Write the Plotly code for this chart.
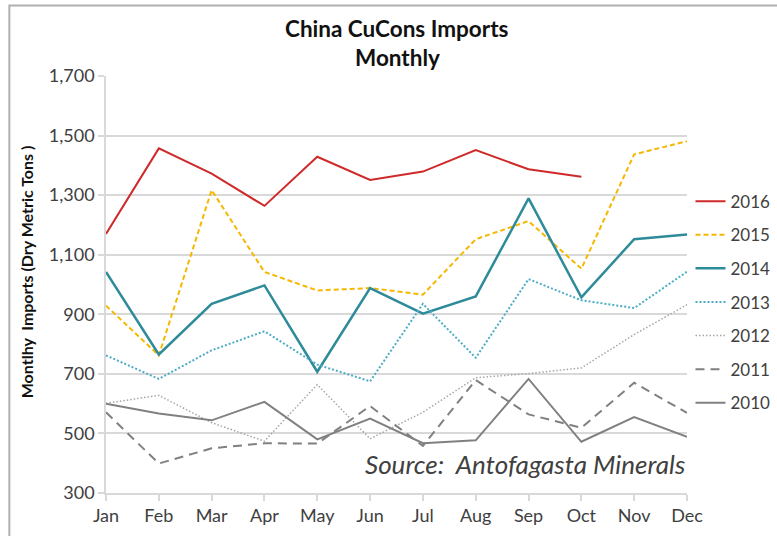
import plotly.graph_objects as go

months = ["Jan", "Feb", "Mar", "Apr", "May", "Jun", "Jul", "Aug", "Sep", "Oct", "Nov", "Dec"]

y2016 = [1170, 1457, 1372, 1264, 1429, 1351, 1379, 1451, 1387, 1362]
y2015 = [929, 762, 1317, 1042, 980, 988, 966, 1152, 1213, 1053, 1437, 1481]
y2014 = [1042, 765, 935, 997, 707, 988, 902, 960, 1289, 957, 1152, 1168]
y2013 = [762, 683, 779, 843, 731, 675, 935, 754, 1018, 947, 921, 1043]
y2012 = [601, 628, 536, 474, 664, 482, 571, 687, 701, 720, 832, 932]
y2011 = [571, 399, 450, 467, 466, 592, 458, 679, 564, 519, 670, 569]
y2010 = [600, 567, 544, 606, 480, 550, 467, 477, 683, 472, 555, 489]

years = ["2016", "2015", "2014", "2013", "2012", "2011", "2010"]
series = [y2016, y2015, y2014, y2013, y2012, y2011, y2010]
colors = ["#cf2a2a", "#f5b800", "#2e8b99", "#4bacc6", "#a6a6a6", "#808080", "#808080"]
dashes = ["solid", "5px,3px", "solid", "2px,2px", "1.5px,2px", "9px,6px", "solid"]
widths = [2, 2, 2.5, 2, 1.5, 2, 2]

y_ticks = [300, 500, 700, 900, 1100, 1300, 1500, 1700]
y_ticktext = ["300", "500", "700", "900", "1,100", "1,300", "1,500", "1,700"]

FONT = "Lato"
TXT = "#404040"

fig = go.Figure()
for name, vals, c, d, w in zip(years, series, colors, dashes, widths):
    fig.add_trace(go.Scatter(
        x=months[:len(vals)], y=vals, name=name, mode="lines",
        line=dict(color=c, dash=d, width=w), legendgroup=name,
    ))

W, H = 777, 536
L, R, T, B = 105.7, 687.0, 75.7, 493.5

fig.update_layout(
    width=W, height=H,
    margin=dict(l=L, r=W - R, t=T, b=H - B, autoexpand=False),
    paper_bgcolor="white", plot_bgcolor="white",
    font=dict(family=FONT, color=TXT, size=16),
    showlegend=True,
    legend=dict(
        x=1.006, xanchor="left", y=0.742, yanchor="top",
        font=dict(size=17, color=TXT, family=FONT),
        itemwidth=30, tracegroupgap=8.5, bgcolor="rgba(0,0,0,0)",
    ),
    xaxis=dict(
        type="category", categoryorder="array", categoryarray=months,
        range=[0, 11], showgrid=False,
        showline=True, linecolor="#d9d9d9", linewidth=1.5,
        ticks="outside", ticklen=6, tickcolor="#d9d9d9", tickwidth=1.5,
        tickfont=dict(size=18, color=TXT, family=FONT), fixedrange=True,
    ),
    yaxis=dict(
        range=[300, 1700], tickvals=y_ticks, ticktext=y_ticktext,
        showgrid=True, gridcolor="#d9d9d9", gridwidth=1.5,
        showline=True, linecolor="#d9d9d9", linewidth=1.5,
        ticks="outside", ticklen=6, tickcolor="#d9d9d9", tickwidth=1.5,
        tickfont=dict(size=18, color=TXT, family=FONT), zeroline=False,
    ),
    shapes=[dict(
        type="rect", xref="paper", yref="paper",
        x0=(9 - L) / (R - L), x1=1.6, y0=-0.5, y1=(B - 5) / (B - T),
        line=dict(color="#b0b0b0", width=2), layer="below",
    )],
    annotations=[
        dict(text="<b>China CuCons Imports</b>", xref="paper", yref="paper",
             x=(397 - L) / (R - L), y=(B - 28) / (B - T), xanchor="center", yanchor="middle",
             showarrow=False, font=dict(size=22.5, color="#111111", family=FONT)),
        dict(text="<b>Monthly</b>", xref="paper", yref="paper",
             x=(397 - L) / (R - L), y=(B - 57) / (B - T), xanchor="center", yanchor="middle",
             showarrow=False, font=dict(size=22.5, color="#111111", family=FONT)),
        dict(text="<b>Montlhy&nbsp; Imports (Dry Metric Tons )</b>", xref="paper", yref="paper",
             x=(27 - L) / (R - L), y=(B - 272) / (B - T), xanchor="center", yanchor="middle",
             textangle=-90, showarrow=False, font=dict(size=16, color="#111111", family=FONT)),
        dict(text="<i>Source:&nbsp; Antofagasta Minerals</i>", xref="paper", yref="paper",
             x=1.0, y=(B - 464) / (B - T), xanchor="right", yanchor="middle",
             showarrow=False, font=dict(size=26, color=TXT, family=FONT)),
    ],
)

fig.write_html(
    "out.html",
    config={"displayModeBar": False},
    post_script="document.body.style.margin='0';document.body.style.overflow='hidden';",
)
